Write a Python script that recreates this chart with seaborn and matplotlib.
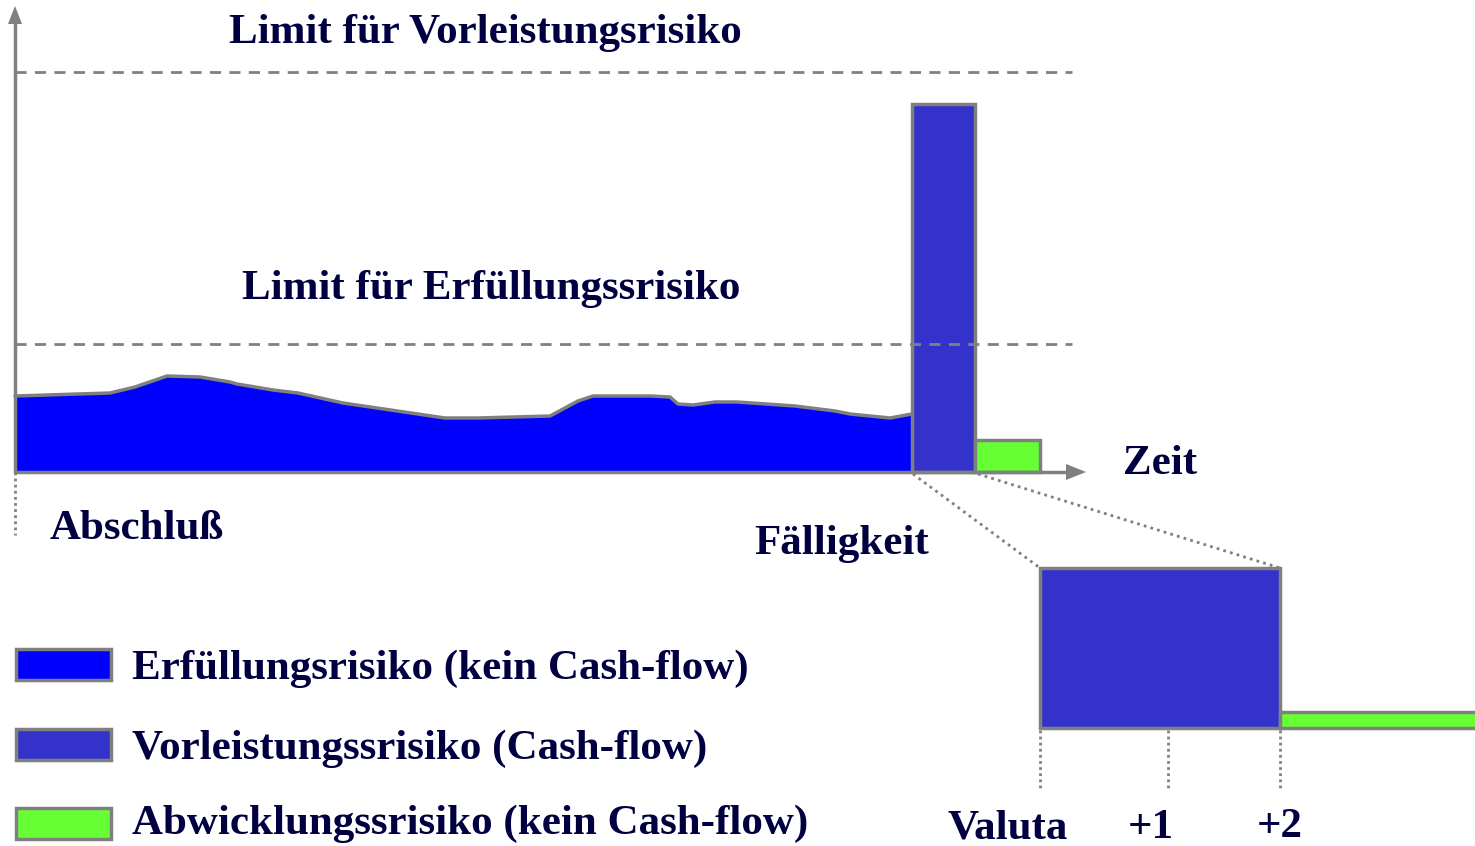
import numpy as np
import pandas as pd
import matplotlib
matplotlib.use("Agg")
import matplotlib.pyplot as plt
from matplotlib.patches import Rectangle, FancyArrow
import seaborn as sns

# ---------------- data ----------------
# exposure profile (Erfüllungsrisiko): time offset from Abschluß, exposure height
profile_t = [0, 95, 120, 152, 185, 215, 222, 258, 283, 328, 430, 463, 535, 563,
             578, 635, 655, 663, 678, 700, 722, 780, 820, 835, 875, 897]
profile_h = [76, 79, 85, 96, 95, 90, 88, 82, 79, 69, 54, 54, 56, 71,
             76, 76, 75, 68, 67, 70, 70, 66, 61, 58, 54, 58]
vorleistung_height = 368
abwicklung_height = 32
limit_vorleistung = 400
limit_erfuellung = 128
inset_vorleistung = 160
inset_abwicklung = 16

limit_labels = ["Limit für Vorleistungsrisiko", "Limit für Erfüllungssrisiko"]
legend_labels = ["Erfüllungsrisiko (kein Cash-flow)",
                 "Vorleistungssrisiko (Cash-flow)",
                 "Abwicklungssrisiko (kein Cash-flow)"]
inset_ticks = ["Valuta", "+1", "+2"]

# ---------------- style ----------------
C_ERF = "#0000FF"
C_VOR = "#3333CC"
C_ABW = "#66FF33"
GREY = "#808080"
TXT = "#000040"
FS = 31

sns.set_theme(style="white")
plt.rcParams["font.family"] = ["Liberation Serif", "DejaVu Serif"]
plt.rcParams["font.weight"] = "bold"

fig = plt.figure(figsize=(14.75, 8.46), dpi=100)
ax = fig.add_axes([0, 0, 1, 1])
ax.set_xlim(0, 1475)
ax.set_ylim(-374, 472)
ax.axis("off")

x0 = 15  # origin
df = pd.DataFrame({"t": np.array(profile_t) + x0, "h": profile_h})

# Erfüllungsrisiko area
ax.fill_between(df["t"], 0, df["h"], color=C_ERF, lw=0, zorder=2)
sns.lineplot(data=df, x="t", y="h", color=GREY, lw=2.5, ax=ax, zorder=3, legend=False)

# Vorleistung / Abwicklung bars
t_end = profile_t[-1] + x0
bw1 = 63
bw2 = 65
ax.bar([t_end], [vorleistung_height], width=bw1, align="edge", color=C_VOR,
       edgecolor=GREY, lw=2.5, zorder=4)
ax.bar([t_end + bw1], [abwicklung_height], width=bw2, align="edge", color=C_ABW,
       edgecolor=GREY, lw=2.5, zorder=4)

# limit lines
for lim in (limit_vorleistung, limit_erfuellung):
    ax.plot([x0, 1072], [lim, lim], color=GREY, lw=2, ls=(0, (4, 3)), zorder=5)

ax.text(485, 439, limit_labels[0], ha="center", va="center", fontsize=FS,
        color=TXT, fontweight="bold")
ax.text(491, 183, limit_labels[1], ha="center", va="center", fontsize=FS,
        color=TXT, fontweight="bold")

# axes arrows
ax.plot([x0, x0], [0, 448], color=GREY, lw=2.5, zorder=6)
ax.add_patch(FancyArrow(x0, 446, 0, 20, width=0, head_width=14, head_length=18,
                        length_includes_head=True, color=GREY, lw=0, zorder=6))
ax.plot([x0, 1070], [0, 0], color=GREY, lw=2.5, zorder=6)
ax.add_patch(FancyArrow(1066, 0, 20, 0, width=0, head_width=16, head_length=20,
                        length_includes_head=True, color=GREY, lw=0, zorder=6))
ax.plot([x0, x0], [0, -63], color=GREY, lw=2, ls=(0, (1, 1.2)), zorder=1)

ax.text(1160, 8, "Zeit", ha="center", va="center", fontsize=FS, color=TXT)
ax.text(137, -57, "Abschluß", ha="center", va="center", fontsize=FS, color=TXT)
ax.text(842, -72, "Fälligkeit", ha="center", va="center", fontsize=FS, color=TXT)

# inset (zoom on Valuta)
ix0, ix1, ix2 = 1040, 1168, 1280
ytop = -96
ybot = ytop - inset_vorleistung
ax.plot([t_end + 1, ix0], [-2, ytop], color=GREY, lw=2, ls=(0, (1, 1.5)), zorder=1)
ax.plot([t_end + bw1 + 3, ix2], [-2, ytop], color=GREY, lw=2, ls=(0, (1, 1.5)), zorder=1)
ax.bar([ix0], [inset_vorleistung], bottom=ybot, width=ix2 - ix0, align="edge",
       color=C_VOR, edgecolor=GREY, lw=2.5, zorder=4)
ax.bar([ix2], [inset_abwicklung], bottom=ybot, width=1480 - ix2, align="edge",
       color=C_ABW, edgecolor=GREY, lw=2.5, zorder=4)
for xv in (ix0, ix1, ix2):
    ax.plot([xv, xv], [ybot - 2, ybot - 62], color=GREY, lw=2, ls=(0, (1, 1.2)), zorder=1)
for xv, lab, dy in zip((1008, 1151, 1280), inset_ticks, (-356, -356, -355)):
    ax.text(xv, dy, lab, ha="center", va="center", fontsize=FS, color=TXT)

# legend
leg_colors = [C_ERF, C_VOR, C_ABW]
leg_y = [-193, -273, -352]
leg_text_y = [-197, -277, -352]
for c, yy, ty, lab in zip(leg_colors, leg_y, leg_text_y, legend_labels):
    ax.add_patch(Rectangle((16, yy - 15), 95, 31, facecolor=c, edgecolor=GREY,
                           lw=2.5, zorder=4))
    ax.text(132, ty, lab, ha="left", va="center", fontsize=FS, color=TXT)

fig.savefig("out.png", dpi=100)
